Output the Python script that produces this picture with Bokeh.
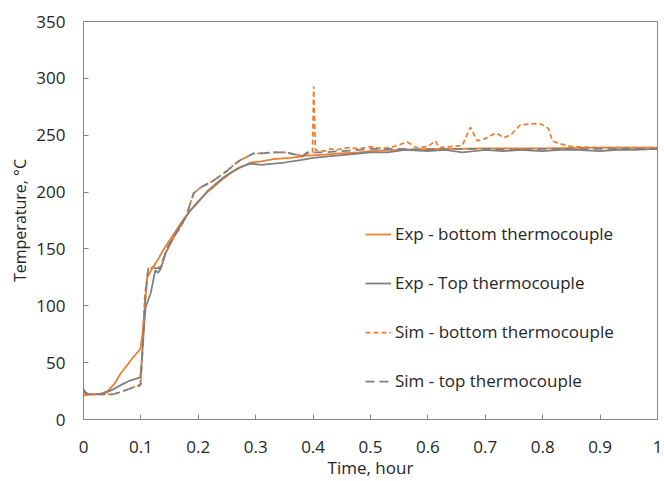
from bokeh.plotting import figure
from bokeh.models import Range1d, FixedTicker, Legend, LegendItem
from bokeh.embed import file_html
from bokeh.resources import INLINE

# ---- data ----
exp_bottom_x = [0, 0.01, 0.02, 0.03, 0.042, 0.055, 0.064, 0.075, 0.087, 0.099, 0.103, 0.107, 0.111, 0.12, 0.129,
                0.14, 0.157, 0.17, 0.186, 0.2, 0.216, 0.23, 0.244, 0.26, 0.275, 0.291, 0.31, 0.331, 0.36, 0.39,
                0.42, 0.448, 0.48, 0.5, 0.55, 0.6, 0.65, 0.7, 0.8, 0.9, 1.0]
exp_bottom_y = [23, 22, 22, 22.5, 25, 32, 40, 47, 55, 62, 76, 100, 125, 133, 140,
                150, 163, 173, 184, 192, 200, 206, 212, 218, 222, 226, 227, 229, 230, 232,
                233, 234, 235, 236, 237, 238, 238, 238.5, 238.5, 239, 239]

exp_top_x = [0, 0.005, 0.02, 0.035, 0.05, 0.064, 0.08, 0.099, 0.102, 0.105,
             0.108, 0.117, 0.125, 0.13, 0.135, 0.143, 0.157, 0.174, 0.185, 0.198,
             0.216, 0.23, 0.244, 0.26, 0.273, 0.291, 0.31, 0.331, 0.35, 0.378,
             0.4, 0.418, 0.44, 0.46, 0.5, 0.53, 0.56, 0.6, 0.63, 0.66,
             0.7, 0.73, 0.76, 0.8, 0.83, 0.86, 0.9, 0.93, 0.96, 1.0]
exp_top_y = [27, 22, 22, 23, 26, 30, 34, 37, 55, 78,
             98, 111, 131, 129, 133, 146, 160, 175, 183, 190,
             201, 207, 213, 218, 222, 225, 224, 225, 226, 228,
             230, 231, 232, 233, 235, 235, 237, 236, 237, 235,
             237, 236, 237, 236, 237, 237, 236, 237, 237, 238]

sim_bottom_x = [0, 0.01, 0.03, 0.05, 0.064, 0.08, 0.1, 0.103, 0.107, 0.112,
                0.12, 0.134, 0.146, 0.16, 0.169, 0.18, 0.186, 0.192, 0.204, 0.215,
                0.226, 0.24, 0.251, 0.262, 0.273, 0.285, 0.296, 0.31, 0.331, 0.35,
                0.37, 0.38, 0.399, 0.401, 0.404, 0.42, 0.43, 0.44, 0.46, 0.48,
                0.5, 0.52, 0.54, 0.564, 0.58, 0.6, 0.613, 0.62, 0.64, 0.66,
                0.674, 0.686, 0.7, 0.718, 0.732, 0.744, 0.761, 0.78, 0.796, 0.81,
                0.817, 0.826, 0.85, 0.9, 0.95, 1.0]
sim_bottom_y = [21, 22, 22, 22, 24, 27, 31, 70, 110, 130,
                134, 134, 151, 163, 169, 180, 190, 199, 204, 207,
                210, 215, 219, 224, 228, 231, 234, 234, 235, 235,
                233, 232, 235, 293, 237, 236, 238, 237, 239, 238,
                240, 238, 240, 244, 239, 240, 245, 239, 240, 241,
                257, 245, 247, 252, 248, 250, 259, 260, 260, 256,
                245, 243, 240, 239, 239, 239]

sim_top_x = [0, 0.01, 0.03, 0.05, 0.064, 0.08, 0.099, 0.103, 0.108, 0.113,
             0.134, 0.146, 0.16, 0.169, 0.18, 0.186, 0.192, 0.204, 0.215, 0.226,
             0.24, 0.251, 0.262, 0.273, 0.285, 0.296, 0.31, 0.331, 0.35, 0.37,
             0.38, 0.39, 0.42, 0.45, 0.48, 0.5, 0.55, 0.6, 0.65, 0.7,
             0.75, 0.8, 0.85, 0.9, 0.95, 1.0]
sim_top_y = [25, 22, 22, 22, 24, 27, 30, 60, 110, 133,
             133, 151, 163, 169, 180, 190, 199, 204, 207, 210,
             215, 219, 224, 228, 231, 234, 234, 235, 235, 233,
             231, 235, 235, 236, 237, 238, 238, 237, 238, 238,
             237, 238, 238, 238, 238, 238]

x_ticks = [0, 0.1, 0.2, 0.3, 0.4, 0.5, 0.6, 0.7, 0.8, 0.9, 1.0]
x_tick_labels = ["0", "0.1", "0.2", "0.3", "0.4", "0.5", "0.6", "0.7", "0.8", "0.9", "1"]
y_ticks = [0, 50, 100, 150, 200, 250, 300, 350]

series_names = ["Exp - bottom thermocouple", "Exp - Top thermocouple",
                "Sim - bottom thermocouple", "Sim - top thermocouple"]

ORANGE = "#ED7D31"
GRAY = "#7F7F7F"
AXIS = "#868686"
TEXT = "#262626"
FONT = "Open Sans"

p = figure(width=664, height=481, output_backend="svg", toolbar_location=None,
           x_range=Range1d(0, 1), y_range=Range1d(0, 350),
           min_border_left=83, min_border_right=7, min_border_top=21, min_border_bottom=62)

p.xgrid.visible = False
p.ygrid.visible = False
p.outline_line_color = AXIS
p.outline_line_width = 1

for ax in (p.xaxis[0], p.yaxis[0]):
    ax.axis_line_color = AXIS
    ax.major_tick_line_color = AXIS
    ax.minor_tick_line_color = None
    ax.major_tick_in = 5
    ax.major_tick_out = 0
    ax.major_label_text_font = FONT
    ax.major_label_text_font_size = "17px"
    ax.major_label_text_color = TEXT
    ax.axis_label_text_font = FONT
    ax.axis_label_text_font_style = "normal"
    ax.axis_label_text_color = TEXT

p.xaxis.axis_label_text_font_size = "17px"
p.yaxis.axis_label_text_font_size = "16px"
p.xaxis.ticker = FixedTicker(ticks=x_ticks)
p.xaxis.major_label_overrides = {t: l for t, l in zip(x_ticks, x_tick_labels)}
p.yaxis.ticker = FixedTicker(ticks=y_ticks)
p.xaxis.major_label_standoff = 21
p.yaxis.major_label_standoff = 18
p.xaxis.axis_label = "Time, hour"
p.yaxis.axis_label = "Temperature, °C"
p.xaxis.axis_label_standoff = 0
p.yaxis.axis_label_standoff = 2

r1 = p.line(exp_bottom_x, exp_bottom_y, line_color=ORANGE, line_width=1.75)
r2 = p.line(exp_top_x, exp_top_y, line_color=GRAY, line_width=1.75)
r3 = p.line(sim_bottom_x, sim_bottom_y, line_color=ORANGE, line_width=1.75, line_dash="5 3")
r4 = p.line(sim_top_x, sim_top_y, line_color=GRAY, line_width=1.75, line_dash="9 5")

legend = Legend(items=[LegendItem(label=n, renderers=[r]) for n, r in zip(series_names, [r1, r2, r3, r4])],
                location=(282, 27), orientation="vertical",
                glyph_width=26, glyph_height=20, label_height=20, spacing=26,
                label_standoff=4, padding=0, margin=0,
                border_line_alpha=0, background_fill_alpha=0,
                label_text_font=FONT, label_text_font_size="17px", label_text_color=TEXT)
p.add_layout(legend)

open("out.html", "w").write(file_html(p, INLINE))
